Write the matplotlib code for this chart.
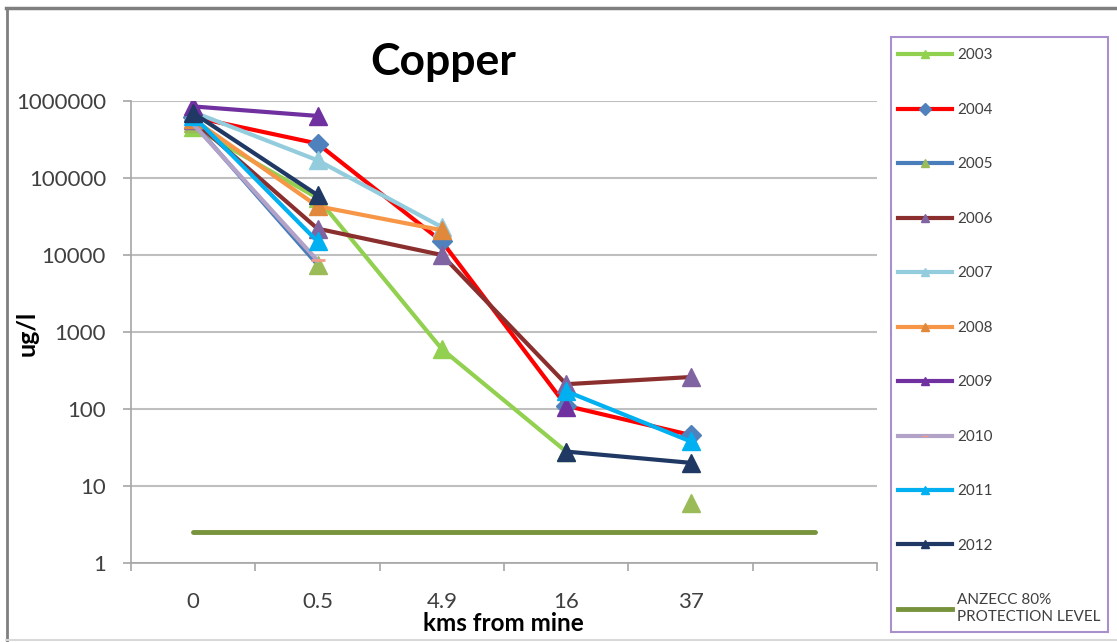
import numpy as np
import matplotlib
matplotlib.use('Agg')
import matplotlib.pyplot as plt
from matplotlib.lines import Line2D
from matplotlib.patches import Rectangle

plt.rcParams['font.family'] = ['Lato', 'DejaVu Sans']

nan = np.nan

# categories on the x axis (last slot is empty, like the Excel sheet)
distances = ['0', '0.5', '4.9', '16', '37', '']

# copper concentrations, ug/l, per year (nan = no sample)
cu_2003 = [460000, 55000, 600, 28, nan]
cu_2004 = [620000, 280000, 15000, 110, 46]
cu_2005 = [520000, 7500, nan, nan, 6]
cu_2006 = [560000, 22000, 10000, 210, 260]
cu_2007 = [720000, 170000, 23000, nan, nan]
cu_2008 = [580000, 43000, 21000, nan, nan]
cu_2009 = [850000, 640000, nan, 105, nan]
cu_2010 = [500000, 8500, nan, nan, nan]
cu_2011 = [640000, 15000, nan, 170, 38]
cu_2012 = [700000, 60000, nan, 28, 20]
anzecc = [2.5, 2.5, 2.5, 2.5, 2.5, 2.5]

years = ['2003', '2004', '2005', '2006', '2007', '2008', '2009', '2010', '2011', '2012']
series = [cu_2003, cu_2004, cu_2005, cu_2006, cu_2007, cu_2008, cu_2009, cu_2010, cu_2011, cu_2012]

# (line colour, marker, marker colour, marker size)
styles = [
    ('#92D050', '^', '#92D050', 13),
    ('#FF0000', 'D', '#4F81BD', 10),
    ('#4A7EBB', '^', '#9BBB59', 13),
    ('#8B2E2E', '^', '#8064A2', 13),
    ('#93CDDD', '^', '#93CDDD', 13),
    ('#F79646', '^', '#E0883C', 13),
    ('#7030A0', '^', '#7030A0', 13),
    ('#B3A2C7', '_', '#F19C8A', 10),
    ('#00B0F0', '^', '#00B0F0', 13),
    ('#1F3864', '^', '#1F3864', 13),
]

fig = plt.figure(figsize=(11.17, 6.42), dpi=100)
ax = fig.add_axes([131 / 1117, 1 - 563 / 642, 746 / 1117, 462 / 642])

x = np.arange(len(distances))
handles = []
for vals, yr, (lc, mk, mc, ms) in zip(series, years, styles):
    v = np.array(vals, dtype=float)
    ax.plot(x[:len(v)], v, color=lc, lw=3, marker=mk, markersize=ms,
            markerfacecolor=mc, markeredgecolor=mc, markeredgewidth=2 if mk == '_' else 1,
            zorder=3)
    handles.append(Line2D([], [], color=lc, lw=3, marker=mk, markersize=6 if mk != '_' else 5,
                          markerfacecolor=mc, markeredgecolor=mc, label=yr))

ax.plot(x, anzecc, color='#77933C', lw=3.5, solid_capstyle='round', zorder=2)
handles.append(Line2D([], [], color='#77933C', lw=3.5, label='ANZECC 80%\nPROTECTION LEVEL'))

ax.set_yscale('log')
ax.set_ylim(1, 1e6)
ax.set_xlim(-0.5, len(distances) - 0.5)
ax.set_yticks([1, 10, 100, 1000, 10000, 100000, 1000000])
ax.set_yticklabels(['1', '10', '100', '1000', '10000', '100000', '1000000'])
ax.yaxis.set_minor_locator(matplotlib.ticker.NullLocator())
ax.set_xticks(x)
ax.set_xticklabels(distances)
ax.set_xticks(np.arange(len(distances) + 1) - 0.5, minor=True)
ax.tick_params(axis='x', which='major', length=0, pad=21, labelsize=16, labelcolor='#404040')
ax.tick_params(axis='x', which='minor', length=6, width=1.2, color='#A6A6A6', direction='out')
ax.tick_params(axis='y', length=6, width=1.2, color='#A6A6A6', pad=12, labelsize=16, labelcolor='#404040')

ax.grid(axis='y', color='#BFBFBF', lw=1.5, zorder=0)
ax.set_axisbelow(True)
for s in ['top', 'right']:
    ax.spines[s].set_visible(False)
for s in ['left', 'bottom']:
    ax.spines[s].set_color('#A6A6A6')
    ax.spines[s].set_linewidth(1.2)

ax.set_xlabel('kms from mine', fontsize=17.5, fontweight='bold', va='center')
ax.xaxis.set_label_coords(0.499, -0.132)
ax.set_ylabel('ug/l', fontsize=18, fontweight='bold', va='center')
ax.yaxis.set_label_coords(-0.139, 0.497)

fig.text(443 / 1117, 1 - 62 / 642, 'Copper', fontsize=32, fontweight='bold',
         ha='center', va='center')

# legend box drawn separately so it keeps the reference size
fig.add_artist(Rectangle((891 / 1117, 1 - 632 / 642), 217 / 1117, 595 / 642,
                         transform=fig.transFigure, facecolor='none',
                         edgecolor='#A98FCC', lw=1.5))
leg = fig.legend(handles=handles, loc='upper left', bbox_to_anchor=(887 / 1117, 1 - 37 / 642),
                 fontsize=11, frameon=False, labelspacing=2.65,
                 handlelength=3.5, handletextpad=0.35, borderpad=0.75, borderaxespad=0)
for t in leg.get_texts():
    t.set_color('#404040')

# outer chart frame
fig.add_artist(Line2D([6 / 1117, 1], [1 - 8 / 642, 1 - 8 / 642], color='#7F7F7F', lw=2.5))
fig.add_artist(Line2D([7 / 1117, 7 / 1117], [0, 1 - 8 / 642], color='#7F7F7F', lw=2))
fig.add_artist(Line2D([6 / 1117, 1], [2 / 642, 2 / 642], color='#D9D9D9', lw=1.5))

fig.savefig('out.png', dpi=100)
